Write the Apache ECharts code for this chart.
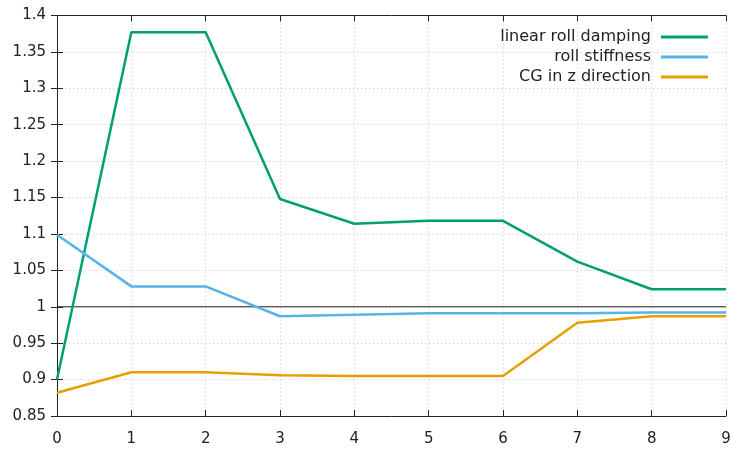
<!DOCTYPE html>
<html><head><meta charset="utf-8">
<script src="https://cdn.jsdelivr.net/npm/echarts@6/dist/echarts.min.js"></script>
<style>html,body{margin:0;padding:0;background:#fff;overflow:hidden}#c{width:731px;height:449px}</style>
</head><body><div id="c"></div>
<script>
const xValues = [0,1,2,3,4,5,6,7,8,9];
const seriesNames = ['linear roll damping','roll stiffness','CG in z direction'];
const linearRollDamping = [0.900,1.377,1.377,1.148,1.114,1.118,1.118,1.062,1.024,1.024];
const rollStiffness = [1.099,1.028,1.028,0.987,0.989,0.991,0.991,0.991,0.992,0.992];
const cgZ = [0.882,0.910,0.910,0.906,0.905,0.905,0.905,0.978,0.987,0.987];
const refLine = 1;
const colors = ['#009e73','#56b4e9','#e69f00'];

const font = 'DejaVu Sans';
const chart = echarts.init(document.getElementById('c'), null, {renderer:'canvas', width:731, height:449});
const mk = (vals)=> xValues.map((x,i)=>[x, vals[i]]);
const axisLine = {show:true, lineStyle:{color:'#222', width:1}};
const tick = {show:true, inside:true, length:6, lineStyle:{color:'#222'}};
const split = {show:true, lineStyle:{color:'#c8c8c8', type:[1,3], width:1}};
chart.setOption({
  animation:false,
  grid:{left:57, top:15.5, right:5, bottom:33, containLabel:false, outerBoundsMode:'none'},
  legend:{
    orient:'vertical', right:18, top:24, align:'right',
    itemWidth:47, itemHeight:3, itemGap:4,
    icon:'rect',
    textStyle:{fontFamily:font, fontSize:16, color:'#222', padding:[0,5,0,0]},
    data: seriesNames
  },
  xAxis:[{
    type:'value', min:0, max:9, interval:1,
    axisLine, axisTick:tick, splitLine:split,
    axisLabel:{fontFamily:font, fontSize:15, color:'#222', margin:16}
  },{
    type:'value', min:0, max:9, interval:1, position:'top',
    axisLine, axisTick:tick, splitLine:{show:false}, axisLabel:{show:false}
  }],
  yAxis:[{
    type:'value', min:0.85, max:1.4, interval:0.05,
    axisLine, axisTick:tick, splitLine:split,
    axisLabel:{fontFamily:font, fontSize:15, color:'#222', margin:11,
      formatter:v=>String(parseFloat(v.toFixed(2)))}
  },{
    type:'value', min:0.85, max:1.4, interval:0.05, position:'right',
    axisLine, axisTick:tick, splitLine:{show:false}, axisLabel:{show:false}
  }],
  series:[
    {name:'ref', type:'line', data:[[xValues[0],refLine],[xValues[xValues.length-1],refLine]],
     showSymbol:false, lineStyle:{color:'#222', width:1}, z:1, silent:true},
    {name:seriesNames[0], type:'line', data:mk(linearRollDamping), showSymbol:false,
     color:colors[0], lineStyle:{width:2.5}, z:3},
    {name:seriesNames[1], type:'line', data:mk(rollStiffness), showSymbol:false,
     color:colors[1], lineStyle:{width:2.5}, z:3},
    {name:seriesNames[2], type:'line', data:mk(cgZ), showSymbol:false,
     color:colors[2], lineStyle:{width:2.5}, z:3}
  ]
});
</script></body></html>
